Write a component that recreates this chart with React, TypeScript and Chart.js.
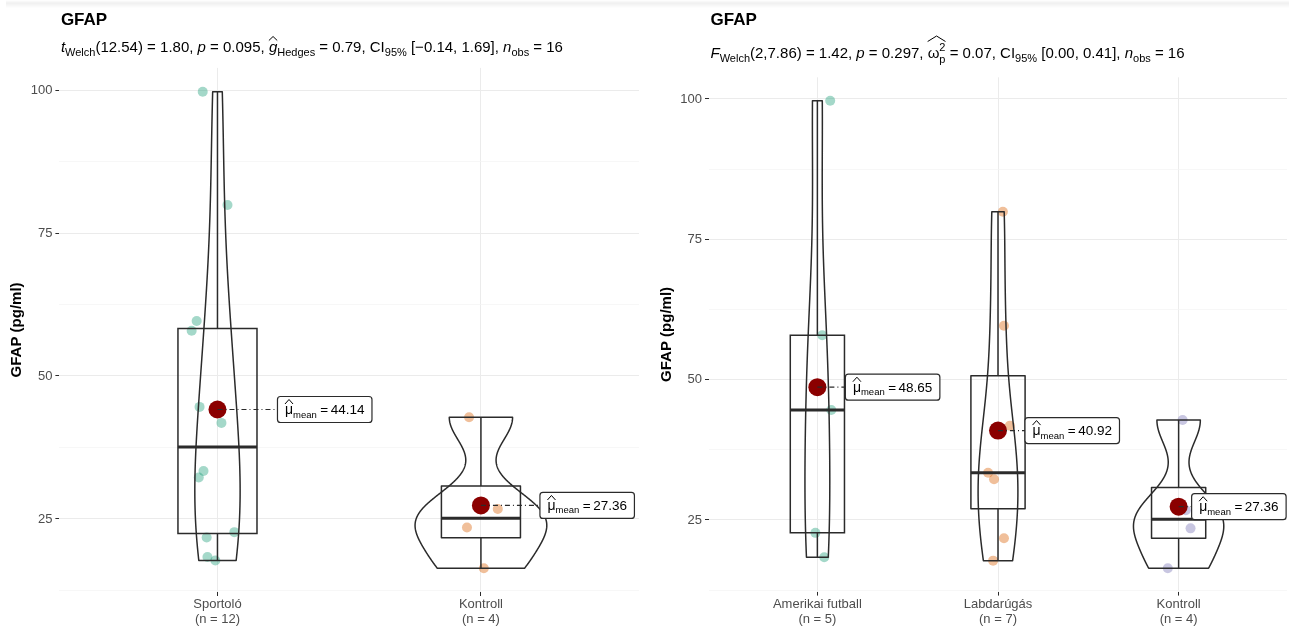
import React, { useEffect, useRef } from 'react';
import { Chart, registerables } from 'chart.js';

Chart.register(...registerables);

const FONT = '"Liberation Sans", Arial, Helvetica, sans-serif';

// ---------------- data ----------------
const panelTitle = 'GFAP';
const yAxisTitle = 'GFAP (pg/ml)';

const leftCategories = ['Sportoló', 'Kontroll'];
const sportoloValues = [99.7, 79.9, 59.6, 57.9, 44.6, 41.8, 33.4, 32.25, 21.75, 22.7, 18.35, 17.75];
const sportoloJitter = [-0.056, 0.038, -0.079, -0.098, -0.068, 0.015, -0.053, -0.071, -0.041, 0.064, -0.038, -0.008];
const kontrollValues = [42.8, 26.75, 23.5, 16.4];
const kontrollJitterLeft = [-0.045, 0.064, -0.053, 0.011];

const rightCategories = ['Amerikai futball', 'Labdarúgás', 'Kontroll'];
const amerikaiValues = [99.7, 57.9, 44.6, 22.7, 18.35];
const amerikaiJitter = [0.071, 0.027, 0.077, -0.011, 0.038];
const labdarugasValues = [79.9, 59.6, 41.8, 33.4, 32.25, 21.75, 17.75];
const labdarugasJitter = [0.027, 0.033, 0.066, -0.055, -0.022, 0.033, -0.027];
const kontrollJitterRight = [0.022, 0.04, 0.066, -0.06];

const yGridValues = [12.5, 25, 37.5, 50, 62.5, 75, 87.5, 100];
const yTickLabels = [25, 50, 75, 100];

type Seg = {
  t: string; size?: number; italic?: boolean; bold?: boolean; dy?: number;
  hatStart?: boolean; hatEnd?: [number, number]; noAdv?: boolean; gap?: number;
};

const SUB = 11;

const leftSubtitle: Seg[] = [
  { t: 't', italic: true }, { t: 'Welch', size: SUB, dy: 3.5 }, { t: '(12.54) = 1.80, ' },
  { t: 'p', italic: true }, { t: ' = 0.095, ' },
  { t: 'g', italic: true, hatStart: true, hatEnd: [-11.5, -15.5] }, { t: 'Hedges', size: SUB, dy: 3.5 },
  { t: ' = 0.79, CI' }, { t: '95%', size: SUB, dy: 3.5 }, { t: ' [−0.14, 1.69], ' },
  { t: 'n', italic: true }, { t: 'obs', size: SUB, dy: 3.5 }, { t: ' = 16' },
];

const rightSubtitle: Seg[] = [
  { t: 'F', italic: true }, { t: 'Welch', size: SUB, dy: 3.5 }, { t: '(2,7.86) = 1.42, ' },
  { t: 'p', italic: true }, { t: ' = 0.297, ' },
  { t: 'ω', hatStart: true }, { t: '2', size: SUB, dy: -7, noAdv: true, hatEnd: [-16.5, -22] },
  { t: 'p', size: SUB, dy: 4.5 }, { t: ' = 0.07, CI' }, { t: '95%', size: SUB, dy: 3.5 },
  { t: ' [0.00, 0.41], ' }, { t: 'n', italic: true }, { t: 'obs', size: SUB, dy: 3.5 }, { t: ' = 16' },
];

// ---------------- styles ----------------
const GROUP_COLORS = ['rgba(27,158,119,0.4)', 'rgba(217,95,2,0.4)', 'rgba(117,112,179,0.4)'];
const LINE_COLOR = '#2b2b2b';

interface PanelCfg {
  canvasLeft: number; canvasWidth: number;
  padTop: number; padRight: number; yAxisWidth: number; xAxisHeight: number; yTitlePad: number;
  categories: string[]; groups: number[][]; jitters: number[][];
  subtitle: Seg[]; subtitleY: number; labelOffsets: number[];
}

const leftPanel: PanelCfg = {
  canvasLeft: 0, canvasWidth: 648, padTop: 67.9, padRight: 3.4, yAxisWidth: 59.4, xAxisHeight: 38, yTitlePad: 7.5,
  categories: leftCategories,
  groups: [sportoloValues, kontrollValues],
  jitters: [sportoloJitter, kontrollJitterLeft],
  subtitle: leftSubtitle, subtitleY: 52, labelOffsets: [60, 59],
};

const rightPanel: PanelCfg = {
  canvasLeft: 648, canvasWidth: 648, padTop: 77.3, padRight: 3, yAxisWidth: 61, xAxisHeight: 38.4, yTitlePad: 9.5,
  categories: rightCategories,
  groups: [amerikaiValues, labdarugasValues, kontrollValues],
  jitters: [amerikaiJitter, labdarugasJitter, kontrollJitterRight],
  subtitle: rightSubtitle, subtitleY: 58, labelOffsets: [28, 27, 13],
};

// ---------------- helpers ----------------
function quantile(sorted: number[], p: number) {
  const h = (sorted.length - 1) * p;
  const lo = Math.floor(h), hi = Math.ceil(h);
  return sorted[lo] + (h - lo) * (sorted[hi] - sorted[lo]);
}
function mean(v: number[]) { return v.reduce((a, b) => a + b, 0) / v.length; }
function boxStats(vals: number[]) {
  const s = [...vals].sort((a, b) => a - b);
  const q1 = quantile(s, 0.25), med = quantile(s, 0.5), q3 = quantile(s, 0.75);
  const iqr = q3 - q1;
  const lw = Math.min(...s.filter(v => v >= q1 - 1.5 * iqr));
  const uw = Math.max(...s.filter(v => v <= q3 + 1.5 * iqr));
  return { q1, med, q3, lw, uw };
}
function densityCurve(vals: number[]) {
  const n = vals.length;
  const s = [...vals].sort((a, b) => a - b);
  const m = mean(vals);
  const sd = Math.sqrt(vals.reduce((a, b) => a + (b - m) ** 2, 0) / (n - 1));
  const iqr = (quantile(s, 0.75) - quantile(s, 0.25)) / 1.34;
  let lo = Math.min(sd, iqr);
  if (!(lo > 0)) lo = sd || 1;
  const bw = 0.9 * lo * Math.pow(n, -0.2);
  const ys: number[] = [], ds: number[] = [];
  const N = 256;
  for (let k = 0; k < N; k++) {
    const y = s[0] + ((s[n - 1] - s[0]) * k) / (N - 1);
    let d = 0;
    for (const v of vals) d += Math.exp(-0.5 * ((y - v) / bw) ** 2);
    d /= n * bw * Math.sqrt(2 * Math.PI);
    ys.push(y); ds.push(d);
  }
  return { ys, ds };
}

function drawRich(ctx: CanvasRenderingContext2D, segs: Seg[], x: number, y: number, base: number, dry = false) {
  let cx = x, hatX = x;
  ctx.textAlign = 'left';
  ctx.textBaseline = 'alphabetic';
  ctx.fillStyle = '#000';
  for (const s of segs) {
    const size = s.size ?? base;
    ctx.font = `${s.italic ? 'italic ' : ''}${s.bold ? 'bold ' : ''}${size}px ${FONT}`;
    const w = ctx.measureText(s.t).width;
    if (s.hatStart) hatX = cx;
    if (!dry) {
      ctx.fillText(s.t, cx, y + (s.dy ?? 0));
      if (s.hatEnd) {
        const x1 = cx + w;
        ctx.beginPath();
        ctx.moveTo(hatX, y + s.hatEnd[0]);
        ctx.lineTo((hatX + x1) / 2, y + s.hatEnd[1]);
        ctx.lineTo(x1, y + s.hatEnd[0]);
        ctx.strokeStyle = '#000';
        ctx.lineWidth = 1;
        ctx.setLineDash([]);
        ctx.stroke();
      }
    }
    if (!s.noAdv) cx += w;
    cx += s.gap ?? 0;
  }
  return cx - x;
}

function buildConfig(cfg: PanelCfg): any {
  const all = cfg.groups.flat();
  const lo = Math.min(...all), hi = Math.max(...all);
  const pad = (hi - lo) * 0.05;
  const nCat = cfg.categories.length;
  const means = cfg.groups.map(mean);
  const curves = cfg.groups.map(densityCurve);
  const maxD = Math.max(...curves.map(c => Math.max(...c.ds)));
  const stats = cfg.groups.map(boxStats);

  const datasets: any[] = [
    {
      label: 'mean',
      type: 'scatter',
      data: means.map((m, i) => ({ x: i + 1, y: m })),
      pointRadius: 9, pointHoverRadius: 9,
      backgroundColor: '#8B0000', borderWidth: 0,
      order: 0,
    },
    ...cfg.groups.map((g, i) => ({
      label: cfg.categories[i],
      type: 'scatter',
      data: g.map((v, j) => ({ x: i + 1 + cfg.jitters[i][j], y: v })),
      pointRadius: 5, pointHoverRadius: 5,
      backgroundColor: GROUP_COLORS[i], borderWidth: 0,
      order: 1,
    })),
  ];

  const shapesPlugin = {
    id: 'shapes',
    beforeDatasetDraw(chart: any, args: any) {
      if (chart.data.datasets[args.index].label !== 'mean') return;
      const ctx: CanvasRenderingContext2D = chart.ctx;
      const xs = chart.scales.x, ys = chart.scales.y;
      ctx.save();
      ctx.strokeStyle = LINE_COLOR;
      ctx.setLineDash([]);
      stats.forEach((st, i) => {
        const c = i + 1;
        const xc = xs.getPixelForValue(c);
        const xl = xs.getPixelForValue(c - 0.15), xr = xs.getPixelForValue(c + 0.15);
        // whiskers
        ctx.lineWidth = 1.5;
        ctx.beginPath();
        ctx.moveTo(xc, ys.getPixelForValue(st.q3)); ctx.lineTo(xc, ys.getPixelForValue(st.uw));
        ctx.moveTo(xc, ys.getPixelForValue(st.q1)); ctx.lineTo(xc, ys.getPixelForValue(st.lw));
        ctx.stroke();
        // box
        ctx.beginPath();
        ctx.rect(xl, ys.getPixelForValue(st.q3), xr - xl, ys.getPixelForValue(st.q1) - ys.getPixelForValue(st.q3));
        ctx.stroke();
        // median
        ctx.lineWidth = 3;
        ctx.beginPath();
        ctx.moveTo(xl, ys.getPixelForValue(st.med)); ctx.lineTo(xr, ys.getPixelForValue(st.med));
        ctx.stroke();
        // violin
        const cv = curves[i];
        ctx.lineWidth = 1.5;
        ctx.lineJoin = 'round';
        ctx.beginPath();
        for (let k = 0; k < cv.ys.length; k++) {
          const hw = (cv.ds[k] / maxD) * 0.25;
          const px = xs.getPixelForValue(c + hw), py = ys.getPixelForValue(cv.ys[k]);
          if (k === 0) ctx.moveTo(px, py); else ctx.lineTo(px, py);
        }
        for (let k = cv.ys.length - 1; k >= 0; k--) {
          const hw = (cv.ds[k] / maxD) * 0.25;
          ctx.lineTo(xs.getPixelForValue(c - hw), ys.getPixelForValue(cv.ys[k]));
        }
        ctx.closePath();
        ctx.stroke();
      });
      ctx.restore();
    },
    afterDatasetsDraw(chart: any) {
      const ctx: CanvasRenderingContext2D = chart.ctx;
      const xs = chart.scales.x, ys = chart.scales.y;
      ctx.save();
      means.forEach((m, i) => {
        const px = xs.getPixelForValue(i + 1), py = ys.getPixelForValue(m);
        const segs: Seg[] = [
          { t: 'μ', size: 14, hatStart: true, hatEnd: [-10, -14.5] },
          { t: 'mean', size: 9.5, dy: 3.5, gap: 3.5 },
          { t: '=', size: 13.5, gap: 2.5 },
          { t: m.toFixed(2), size: 13.5 },
        ];
        const tw = drawRich(ctx, segs, 0, 0, 13.5, true);
        const bx = px + cfg.labelOffsets[i];
        const bw = tw + 15, bh = 26;
        const by = py - bh / 2;
        // connector
        ctx.strokeStyle = LINE_COLOR;
        ctx.lineWidth = 1.2;
        ctx.setLineDash([5, 3, 1, 3]);
        ctx.beginPath();
        ctx.moveTo(px, py); ctx.lineTo(bx, py);
        ctx.stroke();
        ctx.setLineDash([]);
        // box
        ctx.beginPath();
        (ctx as any).roundRect(bx, by, bw, bh, 3);
        ctx.fillStyle = '#fff';
        ctx.fill();
        ctx.lineWidth = 1.2;
        ctx.strokeStyle = LINE_COLOR;
        ctx.stroke();
        drawRich(ctx, segs, bx + 7.5, py + 4.5, 13.5);
      });
      ctx.restore();
    },
    afterDraw(chart: any) {
      const ctx: CanvasRenderingContext2D = chart.ctx;
      const left = chart.chartArea.left + 1.5;
      ctx.save();
      drawRich(ctx, [{ t: panelTitle, bold: true, size: 17 }], left, 25, 17);
      drawRich(ctx, cfg.subtitle, left, cfg.subtitleY, 15);
      ctx.restore();
    },
  };

  const isMajor = (c: any) => c && c.tick && yTickLabels.includes(c.tick.value);

  return {
    type: 'scatter',
    data: { datasets },
    plugins: [shapesPlugin],
    options: {
      responsive: false,
      animation: false,
      devicePixelRatio: 1,
      layout: { padding: { left: 0, right: cfg.padRight, top: cfg.padTop, bottom: 0 } },
      plugins: { legend: { display: false }, tooltip: { enabled: false }, title: { display: false } },
      events: [],
      scales: {
        x: {
          type: 'linear',
          min: 0.4, max: nCat + 0.6,
          afterBuildTicks: (s: any) => { s.ticks = cfg.categories.map((_, i) => ({ value: i + 1 })); },
          afterFit: (s: any) => { s.height = cfg.xAxisHeight; },
          ticks: {
            autoSkip: false, maxRotation: 0, minRotation: 0, padding: 1,
            color: '#4D4D4D',
            font: { family: FONT, size: 13, lineHeight: 15 / 13 },
            callback: (v: number) => {
              const i = Math.round(v) - 1;
              return [cfg.categories[i], `(n = ${cfg.groups[i].length})`];
            },
          },
          grid: { color: '#EBEBEB', lineWidth: 1, tickColor: LINE_COLOR, tickLength: 4, tickWidth: 1 },
          border: { display: false },
        },
        y: {
          type: 'linear',
          min: lo - pad, max: hi + pad,
          afterBuildTicks: (s: any) => { s.ticks = yGridValues.map(v => ({ value: v })); },
          afterFit: (s: any) => { s.width = cfg.yAxisWidth; },
          ticks: {
            padding: 3,
            color: '#4D4D4D',
            font: { family: FONT, size: 13 },
            callback: (v: number) => (yTickLabels.includes(v) ? String(v) : ''),
          },
          grid: {
            color: (c: any) => (isMajor(c) ? '#EBEBEB' : '#F3F3F3'),
            lineWidth: (c: any) => (isMajor(c) ? 1 : 0.7),
            tickColor: (c: any) => (isMajor(c) ? LINE_COLOR : 'rgba(0,0,0,0)'),
            tickLength: 4, tickWidth: 1,
          },
          border: { display: false },
          title: {
            display: true, text: yAxisTitle, color: '#000',
            font: { family: FONT, size: 15, weight: 'bold' },
            padding: { top: cfg.yTitlePad, bottom: 0 },
          },
        },
      },
    },
  };
}

function Panel({ cfg }: { cfg: PanelCfg }) {
  const ref = useRef<HTMLCanvasElement>(null);
  useEffect(() => {
    const chart = new Chart(ref.current as HTMLCanvasElement, buildConfig(cfg));
    return () => chart.destroy();
  }, [cfg]);
  return (
    <canvas
      ref={ref}
      width={cfg.canvasWidth}
      height={630}
      style={{ position: 'absolute', left: cfg.canvasLeft, top: 0, width: cfg.canvasWidth, height: 630 }}
    />
  );
}

export default function App() {
  return (
    <div style={{ position: 'fixed', left: 0, top: 0, width: 1289, height: 630, overflow: 'hidden', background: '#fff' }}>
      <Panel cfg={leftPanel} />
      <Panel cfg={rightPanel} />
      <div
        style={{
          position: 'absolute', left: 6, top: 0, width: 1283, height: 8, pointerEvents: 'none',
          background: 'linear-gradient(rgba(0,0,0,0.0), rgba(0,0,0,0.06) 40%, rgba(255,255,255,0))',
        }}
      />
    </div>
  );
}
